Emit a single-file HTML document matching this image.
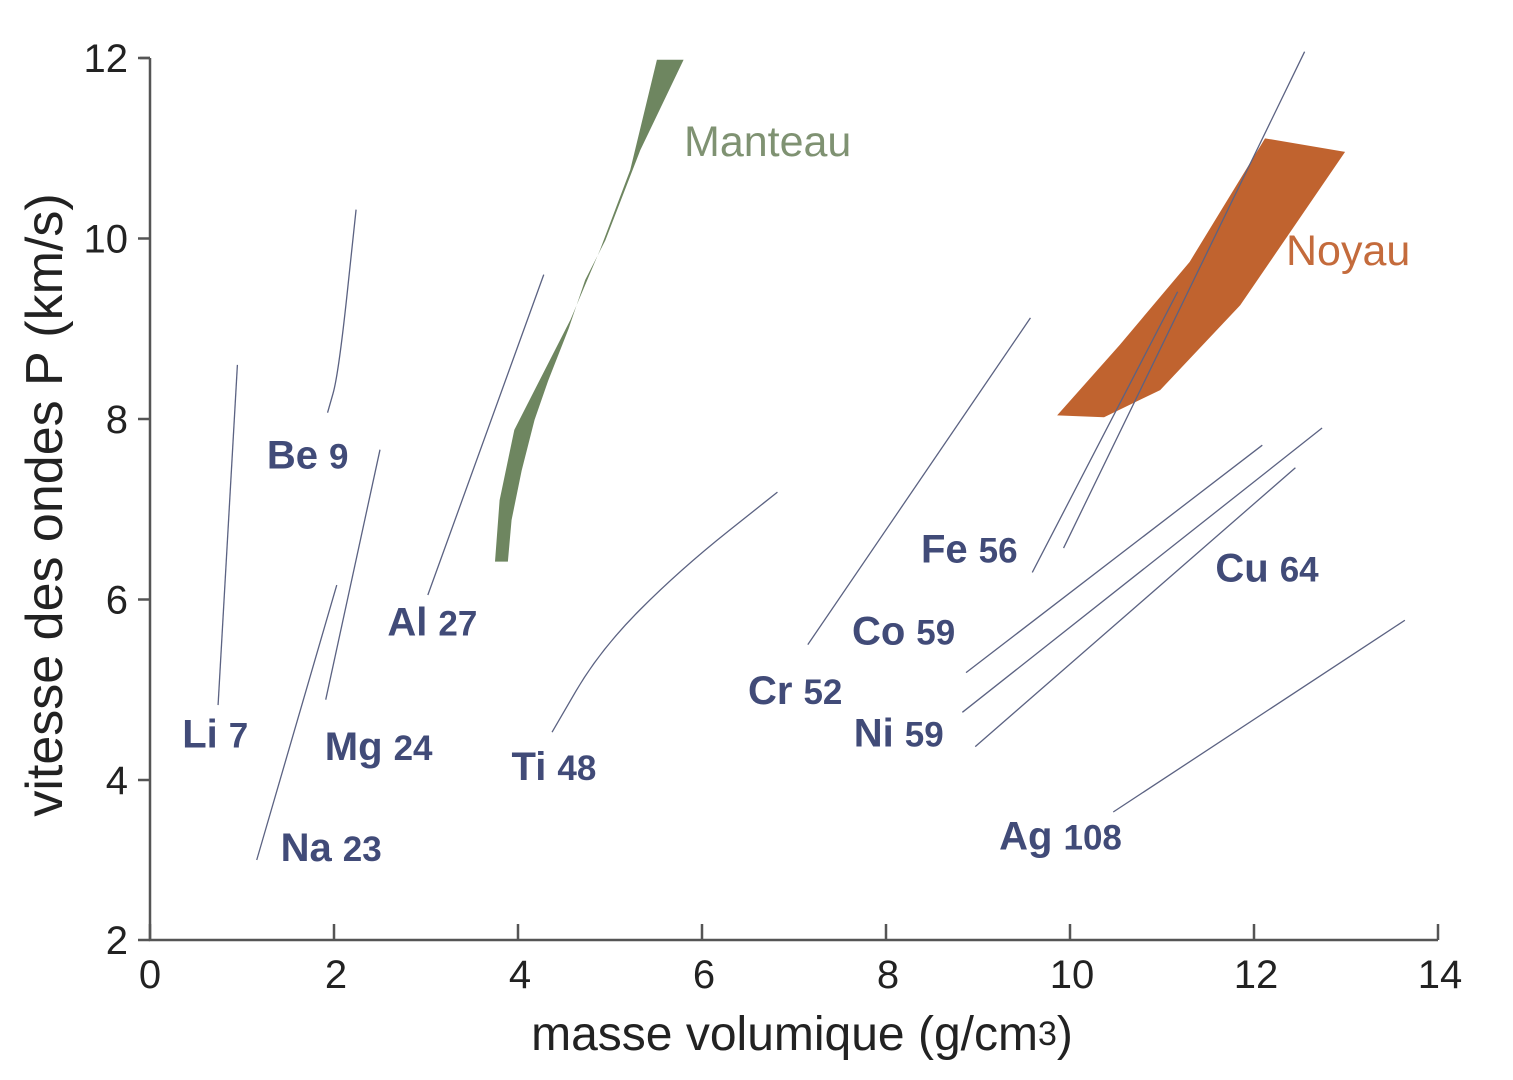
<!DOCTYPE html>
<html><head><meta charset="utf-8"><style>
html,body{margin:0;padding:0;background:#fff;}
svg{display:block;font-family:"Liberation Sans",Arial,sans-serif;}
.lbl{fill:#414b78;font-weight:bold;}
</style></head><body>
<svg id="chart" width="1513" height="1080" viewBox="0 0 1513 1080"></svg>
<script>
const xTicks=[0,2,4,6,8,10,12,14];
const yTicks=[2,4,6,8,10,12];
const elementNames=["Li","Be","Mg","Na","Al","Ti","Cr","Fe-a","Fe-b","Co","Ni","Cu","Ag"];
const elementDensity=[[0.74,0.95],[1.93,2.05,2.24],[1.91,2.5],[1.16,2.03],[3.02,4.28],[4.37,4.89,5.76,6.82],[7.15,9.57],[9.59,11.17],[9.93,12.55],[8.87,12.09],[8.83,12.74],[8.97,12.45],[10.47,13.64]];
const elementVelocity=[[4.83,8.6],[8.07,8.5,10.32],[4.89,7.66],[3.0,6.16],[6.05,9.6],[4.53,5.44,6.33,7.19],[5.5,9.12],[6.3,9.41],[6.57,12.07],[5.19,7.71],[4.75,7.9],[4.37,7.46],[3.6,5.77]];
const mantleDensity=[3.75,3.80,3.96,4.18,4.57,4.89,5.22,5.51,5.80,5.33,4.95,4.73,4.55,4.33,4.18,4.04,3.93,3.89];
const mantleVelocity=[6.42,7.10,7.88,8.32,9.10,9.87,10.76,11.98,11.98,10.98,9.98,9.54,9.0,8.43,7.99,7.43,6.88,6.42];
const coreDensity=[9.86,10.37,10.98,11.85,12.99,12.12,11.30,10.54];
const coreVelocity=[8.04,8.02,8.32,9.26,10.96,11.11,9.74,8.82];
const labelText=[["Li","7"],["Be","9"],["Mg","24"],["Na","23"],["Al","27"],["Ti","48"],["Cr","52"],["Fe","56"],["Co","59"],["Ni","59"],["Cu","64"],["Ag","108"]];
const labelDensity=[0.35,1.27,1.9,1.42,2.58,3.93,6.5,8.38,7.63,7.65,11.58,9.23];
const labelVelocity=[4.36,7.45,4.22,2.99,5.6,4.0,4.84,6.41,5.5,4.37,6.2,3.13];

const NS="http://www.w3.org/2000/svg";
const svg=document.getElementById('chart');
function X(v){return 150+v*92;}
function Y(v){return v<4?940-(v-2)*80:780-(v-4)*90.25;}
function mk(t,a,p){const e=document.createElementNS(NS,t);for(const k in a)e.setAttribute(k,a[k]);(p||svg).appendChild(e);return e;}

const ax=mk('path',{d:`M${X(0)} ${Y(12)} H${X(0)-10} M${X(0)} ${Y(12)} V${Y(2)} H${X(14)}`,stroke:'#555',"stroke-width":2.5,fill:'none'});


xTicks.forEach(t=>{
  const l=mk('line',{x1:X(t),x2:X(t),y1:Y(2),y2:Y(2)-16,stroke:'#555',"stroke-width":2.5});
  
  
  const tx=mk('text',{x:X(t)+(t==0?0:2),y:988,"text-anchor":"middle","font-size":40,fill:'#222'});
  tx.textContent=t;
  
  
});
yTicks.forEach(t=>{
  const l=mk('line',{x1:X(0),x2:X(0)-12,y1:Y(t),y2:Y(t),stroke:'#555',"stroke-width":2.5});
  
  
  const tx=mk('text',{x:128,y:Y(t)+14,"text-anchor":"end","font-size":40,fill:'#222'});
  tx.textContent=t;
  
  
});
const xt=mk('text',{x:802,y:1050,"text-anchor":"middle","font-size":48,fill:'#222'});
xt.innerHTML='masse volumique (g/cm<tspan font-size="34" dy="-5">3</tspan><tspan dy="5">)</tspan>';


const yt=mk('text',{x:0,y:0,"text-anchor":"middle","font-size":52,fill:'#222',transform:'translate(62,505) rotate(-90)'});
yt.textContent='vitesse des ondes P (km/s)';



function poly(ds,vs,fill,name){
  const p=mk('polygon',{points:ds.map((d,i)=>X(d)+','+Y(vs[i])).join(' '),fill:fill,"stroke-linejoin":"round"});
  
  
}
poly(mantleDensity,mantleVelocity,'#6e8660','mantle-region');
poly(coreDensity,coreVelocity,'#c0632f','core-region');

elementNames.forEach((n,i)=>{
  const pts=elementDensity[i].map((d,j)=>[X(d),Y(elementVelocity[i][j])]);
  let d='M'+pts[0].join(' ');
  if(pts.length>2){for(let j=1;j<pts.length;j++){const p0=pts[j-1],p1=pts[j];d+=` Q${p0[0]} ${p0[1]} ${(p0[0]+p1[0])/2} ${(p0[1]+p1[1])/2}`;}d+=' L'+pts[pts.length-1].join(' ');}
  else d+=' L'+pts[1].join(' ');
  const p=mk('path',{d:d,stroke:'#5b6282',"stroke-width":1.3,fill:'none'});
  
  
});

labelText.forEach((t,i)=>{
  const tx=mk('text',{x:X(labelDensity[i]),y:Y(labelVelocity[i]),class:'lbl'});
  tx.innerHTML=`<tspan font-size="40">${t[0]}</tspan><tspan font-size="35" dx="11">${t[1]}</tspan>`;
  
  
});
const mt=mk('text',{x:684,y:156,"font-size":43,fill:'#7f9272'});
mt.textContent='Manteau';


const nt=mk('text',{x:1286,y:265,"font-size":43,fill:'#c46b3c'});
nt.textContent='Noyau';


</script>
</body></html>
